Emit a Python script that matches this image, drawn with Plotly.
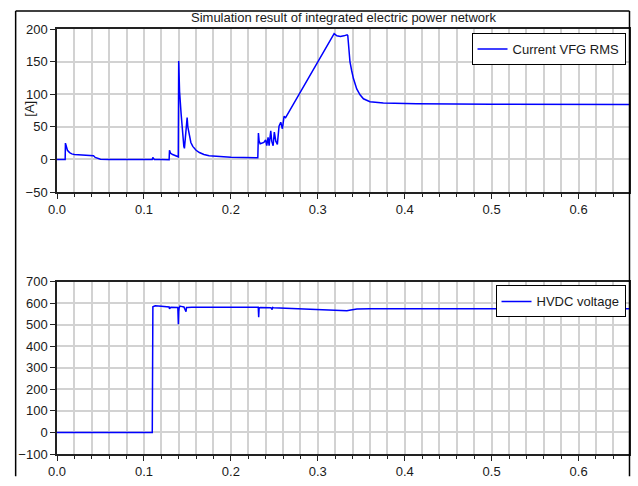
import plotly.graph_objects as go

# ---------------- data ----------------
# Current VFG RMS [A]
t_cur = [0.0, 0.0094, 0.0097, 0.0105, 0.012, 0.0145, 0.017, 0.02, 0.025, 0.03, 0.035,
         0.040, 0.042, 0.044, 0.047, 0.050, 0.06, 0.08, 0.100, 0.1095, 0.1102, 0.1108,
         0.112, 0.12, 0.129, 0.1294, 0.1300, 0.1306, 0.1330, 0.1351, 0.1390, 0.1395,
         0.1400, 0.1410, 0.1428, 0.1447, 0.1459, 0.1466, 0.1497, 0.1505, 0.1523, 0.1540,
         0.1562, 0.1600, 0.1638, 0.1690, 0.1750, 0.1865, 0.2000, 0.2150, 0.2310, 0.2317,
         0.2325, 0.2337, 0.2360, 0.2380, 0.2400, 0.2413, 0.2428, 0.2440, 0.2459, 0.2470,
         0.2486, 0.2500, 0.2517, 0.2535, 0.2554, 0.2574, 0.2593, 0.2612, 0.2630, 0.2700,
         0.2800, 0.2900, 0.3013, 0.3100, 0.3188, 0.3220, 0.3260, 0.3300, 0.3337, 0.3345,
         0.3356, 0.3370, 0.3390, 0.3410, 0.3448, 0.3486, 0.3525, 0.3600, 0.3754, 0.4135,
         0.5000, 0.5800, 0.6580]
v_cur = [0.0, 0.0, 25.0, 20.0, 14.0, 10.5, 8.5, 7.5, 7.0, 6.8, 6.5,
         6.2, 5.5, 3.0, 1.2, 0.3, 0.0, 0.0, 0.0, 0.0, 3.0, 1.0,
         0.0, -0.3, -0.5, 14.0, 11.0, 9.5, 7.5, 6.5, 4.5, 4.0,
         151.0, 104.0, 69.5, 35.0, 20.0, 17.0, 64.0, 50.0, 35.0, 26.0,
         20.0, 14.0, 10.5, 7.5, 5.5, 4.0, 3.2, 2.8, 2.5, 40.5,
         28.0, 24.0, 25.0, 26.0, 30.0, 21.0, 34.0, 21.0, 44.0, 28.0,
         21.0, 42.0, 28.0, 23.0, 51.0, 57.0, 47.0, 66.0, 64.0, 80.0,
         103.0, 126.0, 153.0, 172.0, 193.0, 189.5, 188.5, 189.5, 191.0, 190.0,
         168.0, 150.0, 136.0, 124.0, 108.0, 99.0, 93.0, 88.5, 86.5, 85.4,
         84.7, 84.4, 84.2]

# HVDC voltage [V]
t_volt = [0.0, 0.1096, 0.1103, 0.1115, 0.1130, 0.1200, 0.1250, 0.1290, 0.1294, 0.1300,
          0.1310, 0.1390, 0.1396, 0.1400, 0.1405, 0.1415, 0.1428, 0.1460, 0.1484, 0.1486,
          0.1490, 0.1500, 0.1550, 0.1800, 0.2100, 0.2315, 0.2320, 0.2325, 0.2340, 0.2400,
          0.2460, 0.2475, 0.2480, 0.2490, 0.2550, 0.2800, 0.3013, 0.3200, 0.3335, 0.3380,
          0.3450, 0.3600, 0.4000, 0.5000, 0.6580]
v_volt = [0.0, 0.0, 583.0, 587.0, 588.0, 586.0, 584.0, 582.0, 574.0, 580.0,
          581.0, 580.0, 502.0, 560.0, 578.0, 586.0, 585.0, 582.0, 560.0, 576.0,
          580.0, 580.0, 581.0, 581.0, 581.0, 581.0, 535.0, 578.0, 580.0, 580.0,
          579.0, 570.0, 580.0, 579.0, 578.0, 576.0, 570.0, 566.0, 565.0, 568.0,
          573.0, 574.0, 574.0, 574.0, 574.0]

title_text = "Simulation result of integrated electric power network"
name_cur = "Current VFG RMS"
name_volt = "HVDC voltage"
y_label_top = "[A]"

x_range = [0.0, 0.658]
y_range_top = [-50, 200]
y_range_bot = [-100, 700]

# ---------------- figure ----------------
W, H = 638, 486
ML, MR, MT, MB = 57, 7, 29, 19
PW = W - ML - MR
PH = H - MT - MB


def py(px):
    return (H - MB - px) / PH


def pxx(px):
    return (px - ML) / PW


FONT = "Liberation Sans, Arial, sans-serif"
FS = 13
BLUE = "#0000ff"
GRID = "#d2d2d2"
AX = "#222222"
TXT = "#1a1a1a"

fig = go.Figure()
fig.add_trace(go.Scatter(x=t_cur, y=v_cur, mode="lines", name=name_cur,
                         line=dict(color=BLUE, width=1.5), xaxis="x", yaxis="y",
                         legend="legend"))
fig.add_trace(go.Scatter(x=t_volt, y=v_volt, mode="lines", name=name_volt,
                         line=dict(color=BLUE, width=1.5), xaxis="x2", yaxis="y2",
                         legend="legend2"))

xaxis_common = dict(
    range=x_range, dtick=0.1, tick0=0, tickformat=".1f",
    showgrid=True, gridcolor=GRID, gridwidth=2,
    ticks="outside", ticklen=5, tickcolor=AX,
    showline=True, linecolor=AX, linewidth=1.5, mirror=True,
    zeroline=False,
    minor=dict(dtick=0.02, tick0=0, showgrid=True, gridcolor=GRID, gridwidth=2,
               ticks="outside", ticklen=3, tickcolor=AX),
    tickfont=dict(family=FONT, size=FS, color=TXT),
    fixedrange=True,
)

yaxis_common = dict(
    showgrid=True, gridcolor=GRID, gridwidth=2,
    ticks="outside", ticklen=5, tickcolor=AX,
    showline=True, linecolor=AX, linewidth=1.5, mirror=True,
    zeroline=False,
    tickfont=dict(family=FONT, size=FS, color=TXT),
    fixedrange=True,
)

top_dom = [py(197), 1.0]
bot_dom = [0.0, py(289.3)]

frame_line = dict(color="black", width=1.5)
xl, xr = pxx(15.5), pxx(631.5)
yt, yb = py(10.5), py(490)

fig.update_layout(
    width=W, height=H,
    margin=dict(l=ML, r=MR, t=MT, b=MB, pad=0),
    paper_bgcolor="white", plot_bgcolor="white",
    font=dict(family=FONT, size=FS, color=TXT),
    xaxis=dict(**xaxis_common, anchor="y", domain=[0, 1]),
    yaxis=dict(**yaxis_common, range=y_range_top, dtick=50, anchor="x", domain=top_dom),
    xaxis2=dict(**xaxis_common, anchor="y2", domain=[0, 1]),
    yaxis2=dict(**yaxis_common, range=y_range_bot, dtick=100, anchor="x2", domain=bot_dom),
    legend=dict(x=pxx(627.5), y=py(33.3), xanchor="right", yanchor="top",
                bgcolor="white", bordercolor="black", borderwidth=1,
                font=dict(family=FONT, size=FS, color=TXT)),
    legend2=dict(x=pxx(627.5), y=py(293.3), xanchor="right", yanchor="top",
                 bgcolor="white", bordercolor="black", borderwidth=1,
                 font=dict(family=FONT, size=FS, color=TXT)),
    showlegend=True,
    shapes=[
        dict(type="line", xref="paper", yref="paper", x0=xl, x1=xr, y0=yt, y1=yt,
             line=frame_line, layer="above"),
        dict(type="line", xref="paper", yref="paper", x0=xl, x1=xl, y0=yt, y1=yb,
             line=frame_line, layer="above"),
        dict(type="line", xref="paper", yref="paper", x0=xr, x1=xr, y0=yt, y1=yb,
             line=frame_line, layer="above"),
    ],
    annotations=[
        dict(text=title_text, xref="paper", yref="paper", x=0.5, y=py(17.5),
             xanchor="center", yanchor="middle", showarrow=False,
             font=dict(family=FONT, size=FS, color=TXT)),
        dict(text=y_label_top, xref="paper", yref="paper", x=pxx(29), y=py(111),
             xanchor="center", yanchor="middle", showarrow=False, textangle=-90,
             font=dict(family=FONT, size=FS, color=TXT)),
    ],
)

fig.write_html("out.html")
